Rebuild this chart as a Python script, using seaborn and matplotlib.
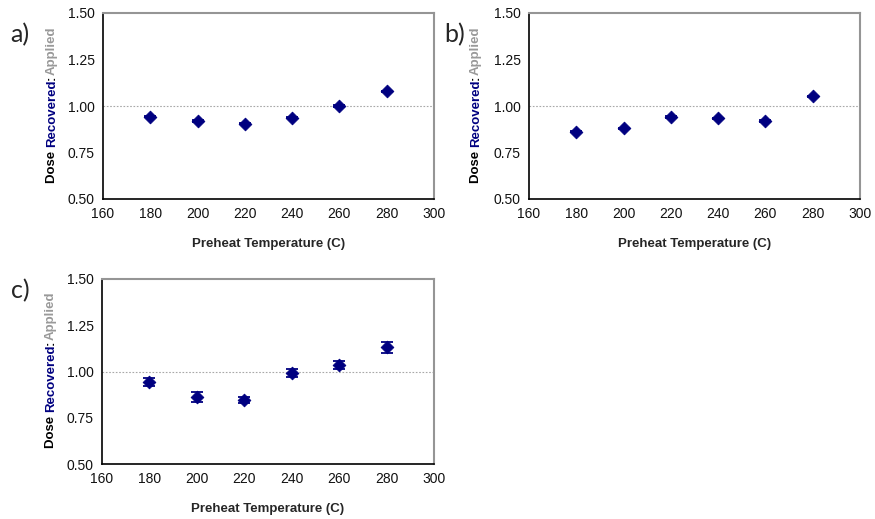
import matplotlib
matplotlib.use("Agg")
import matplotlib.pyplot as plt
import seaborn as sns
import pandas as pd

temps = [180, 200, 220, 240, 260, 280]
ratio_a = [0.943, 0.919, 0.905, 0.937, 1.000, 1.079]
err_a = [0.004, 0.004, 0.004, 0.004, 0.004, 0.004]
ratio_b = [0.862, 0.880, 0.941, 0.934, 0.919, 1.052]
err_b = [0.004, 0.004, 0.004, 0.004, 0.004, 0.004]
ratio_c = [0.942, 0.864, 0.846, 0.992, 1.037, 1.131]
err_c = [0.022, 0.027, 0.018, 0.020, 0.022, 0.030]
panel_labels = ["a)", "b)", "c)"]
xticks = [160, 180, 200, 220, 240, 260, 280, 300]
yticks = [0.50, 0.75, 1.00, 1.25, 1.50]

sns.set_theme(style="white")
plt.rcParams['font.family'] = ['Liberation Sans', 'DejaVu Sans']

fig = plt.figure(figsize=(8.75, 5.19), dpi=100)
navy = "#000080"

positions = [
    (103/875, 1-199/519, 331/875, 186/519),
    (529/875, 1-199/519, 331/875, 186/519),
    (102/875, 1-464/519, 332/875, 185/519),
]
label_pos = [(-0.280, 0.885), (-0.256, 0.885), (-0.274, 0.935)]
datasets = [(ratio_a, err_a), (ratio_b, err_b), (ratio_c, err_c)]

axes = []
for pos, (vals, errs), lab, lp in zip(positions, datasets, panel_labels, label_pos):
    ax = fig.add_axes(pos)
    axes.append(ax)
    df = pd.DataFrame({"T": temps, "R": vals, "E": errs})
    ax.axhline(1.0, color="#a8a8a8", lw=0.8, ls=(0, (1.5, 1.5)), zorder=1)
    ax.errorbar(df["T"], df["R"], yerr=df["E"], fmt="none", ecolor=navy,
                elinewidth=1.3, capsize=4, capthick=1.3, zorder=2)
    sns.scatterplot(data=df, x="T", y="R", marker="D", s=42, color=navy,
                    edgecolor=navy, linewidth=0.6, ax=ax, zorder=3)
    ax.set_xlim(160, 300)
    ax.set_ylim(0.5, 1.5)
    ax.set_xticks(xticks)
    ax.set_yticks(yticks)
    ax.set_yticklabels([f"{v:.2f}" for v in yticks])
    ax.tick_params(axis="both", direction="out", length=4, width=1,
                   labelsize=10, colors="black", pad=2)
    ax.tick_params(axis="both", labelcolor="#111111")
    for s in ["left", "bottom"]:
        ax.spines[s].set_color("black")
        ax.spines[s].set_linewidth(1.2)
    for s in ["top", "right"]:
        ax.spines[s].set_color("#959595")
        ax.spines[s].set_linewidth(1.5)
    ax.set_xlabel("Preheat Temperature (C)", fontsize=9.5, fontweight="bold",
                  labelpad=12)
    ax.set_ylabel("")
    ax.text(lp[0], lp[1], lab, transform=ax.transAxes, fontsize=18,
            family=["Lato", "DejaVu Sans"], ha="left", va="center")

fig.canvas.draw()
renderer = fig.canvas.get_renderer()
parts = [("Dose ", "black"), ("Recovered", navy), (":", "black"), ("Applied", "#999999")]
offsets = [51, 53, 51]
for ax, off in zip(axes, offsets):
    bb = ax.get_window_extent(renderer)
    x_fig = bb.x0 - off
    y = bb.y0 + 16
    for txt, col in parts:
        t = fig.text(x_fig / fig.bbox.width, y / fig.bbox.height, txt,
                     rotation=90, color=col, fontsize=9.5, fontweight="bold",
                     ha="left", va="center", rotation_mode="anchor")
        ext = t.get_window_extent(renderer)
        y += ext.height

fig.savefig("out.png", dpi=100)
